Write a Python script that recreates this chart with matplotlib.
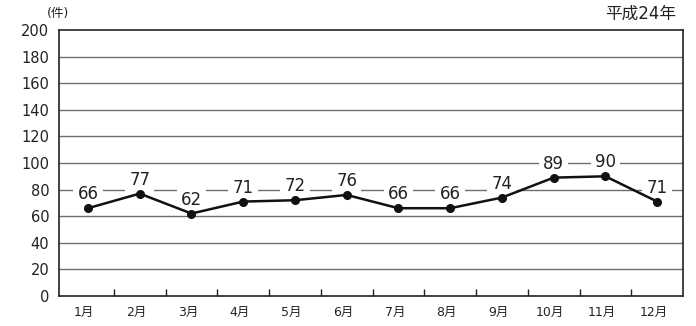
import matplotlib
matplotlib.use("Agg")
import matplotlib.pyplot as plt

plt.rcParams['font.family'] = ['DejaVu Sans', 'Noto Sans CJK JP']

months = ["1月", "2月", "3月", "4月", "5月", "6月", "7月", "8月", "9月", "10月", "11月", "12月"]
counts = [66, 77, 62, 71, 72, 76, 66, 66, 74, 89, 90, 71]
yticks = [0, 20, 40, 60, 80, 100, 120, 140, 160, 180, 200]

fig = plt.figure(figsize=(6.96, 3.26), dpi=100)
ax = fig.add_axes([59/696, 30/326, (683-59)/696, (296-30)/326])

x = list(range(len(months)))
ax.set_xlim(-0.56, 11.5)
ax.set_ylim(0, 200)

for y in yticks[1:-1]:
    ax.axhline(y, color='#6e6e6e', lw=1.0, zorder=1)

ax.plot(x, counts, color='#111111', lw=1.8, marker='o', ms=5.5, zorder=3)

for xi, v in zip(x, counts):
    ax.annotate(str(v), (xi, v), xytext=(0, 6.5), textcoords='offset points',
                ha='center', va='baseline', fontsize=12, color='#222222',
                bbox=dict(boxstyle='square,pad=0.25', fc='white', ec='none'), zorder=2)

ax.set_yticks(yticks)
ax.set_yticklabels([str(v) for v in yticks], fontsize=10.5, color='#222222')
ax.tick_params(axis='y', length=0, pad=7)

ax.set_xticks([i + 0.5 for i in range(len(months) - 1)])
ax.set_xticklabels([])
ax.tick_params(axis='x', direction='in', length=5, width=1, color='#222222')
for xi, m in zip(x, months):
    ax.text(xi - 0.07, -12, m, ha='center', va='center', fontsize=9, color='#222222')

for s in ax.spines.values():
    s.set_color('#222222')
    s.set_linewidth(1.2)

fig.text(47/696, 1 - 14/326, "(件)", ha='left', va='center', fontsize=9, color='#222222')
fig.text(676/696, 1 - 14/326, "平成24年", ha='right', va='center', fontsize=12, color='#222222')

fig.savefig("out.png", dpi=100)
